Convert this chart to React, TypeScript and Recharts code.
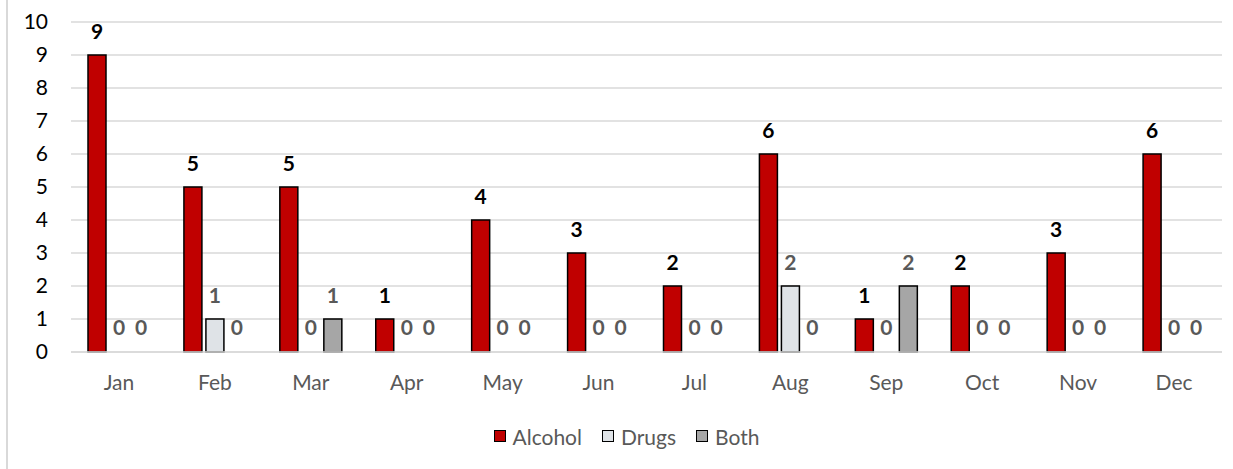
import { BarChart, Bar, XAxis, YAxis, CartesianGrid, Legend, LabelList, Cell } from "recharts";

const months = ["Jan", "Feb", "Mar", "Apr", "May", "Jun", "Jul", "Aug", "Sep", "Oct", "Nov", "Dec"];
const alcohol = [9, 5, 5, 1, 4, 3, 2, 6, 1, 2, 3, 6];
const drugs = [0, 1, 0, 0, 0, 0, 0, 2, 0, 0, 0, 0];
const both = [0, 0, 1, 0, 0, 0, 0, 0, 2, 0, 0, 0];
const yTicks = [0, 1, 2, 3, 4, 5, 6, 7, 8, 9, 10];

const data = months.map((m, i) => ({
  month: m,
  Alcohol: alcohol[i],
  Drugs: drugs[i],
  Both: both[i],
}));

const FONT = "Lato, 'Open Sans', sans-serif";

const series = [
  { key: "Alcohol", values: alcohol, color: "#c00000", label: "#000" },
  { key: "Drugs", values: drugs, color: "#dfe3e7", label: "#595959" },
  { key: "Both", values: both, color: "#a6a6a6", label: "#595959" },
];

function LegendContent() {
  return (
    <div
      style={{
        display: "flex",
        justifyContent: "center",
        alignItems: "center",
        height: 30,
        paddingLeft: 40,
        fontFamily: FONT,
        fontSize: 21,
        color: "#595959",
      }}
    >
      {series.map((it) => (
        <div key={it.key} style={{ display: "flex", alignItems: "center", marginRight: 20 }}>
          <span
            style={{
              display: "inline-block",
              width: 10,
              height: 10,
              background: it.color,
              border: "1.5px solid #000",
              marginRight: 7,
            }}
          />
          <span>{it.key}</span>
        </div>
      ))}
    </div>
  );
}

export default function App() {
  return (
    <div
      style={{
        position: "absolute",
        left: 0,
        top: 0,
        width: 1233,
        height: 469,
        background: "#fff",
        fontFamily: FONT,
      }}
    >
      <div
        style={{ position: "absolute", left: 6, top: 0, width: 2, height: 469, background: "#d9d9d9" }}
      />
      <BarChart
        width={1233}
        height={469}
        data={data}
        margin={{ top: 22, right: 11, left: 0, bottom: 18 }}
        barCategoryGap={17}
        barGap={4}
      >
        <CartesianGrid vertical={false} stroke="#d9d9d9" strokeWidth={1.5} />
        <XAxis
          dataKey="month"
          height={69}
          axisLine={{ stroke: "#d9d9d9", strokeWidth: 1.5 }}
          tickLine={false}
          tickMargin={17}
          tick={{ fill: "#595959", fontSize: 21, fontFamily: FONT }}
        />
        <YAxis
          width={71}
          domain={[0, 10]}
          ticks={yTicks}
          axisLine={false}
          tickLine={false}
          tickMargin={17}
          tick={{ fill: "#000", fontSize: 21, fontFamily: FONT }}
        />
        <Legend
          verticalAlign="bottom"
          content={<LegendContent />}
          wrapperStyle={{ left: 0, width: 1233 }}
        />
        {series.map((s) => (
          <Bar
            key={s.key}
            dataKey={s.key}
            fill={s.color}
            stroke="#000"
            strokeWidth={1.5}
            minPointSize={1}
            isAnimationActive={false}
          >
            {s.values.map((v, i) => (
              <Cell
                key={i}
                fill={v === 0 ? "transparent" : s.color}
                stroke={v === 0 ? "none" : "#000"}
              />
            ))}
            <LabelList
              dataKey={s.key}
              position="top"
              offset={16}
              fill={s.label}
              fontSize={21}
              fontWeight="bold"
              fontFamily={FONT}
            />
          </Bar>
        ))}
      </BarChart>
    </div>
  );
}
